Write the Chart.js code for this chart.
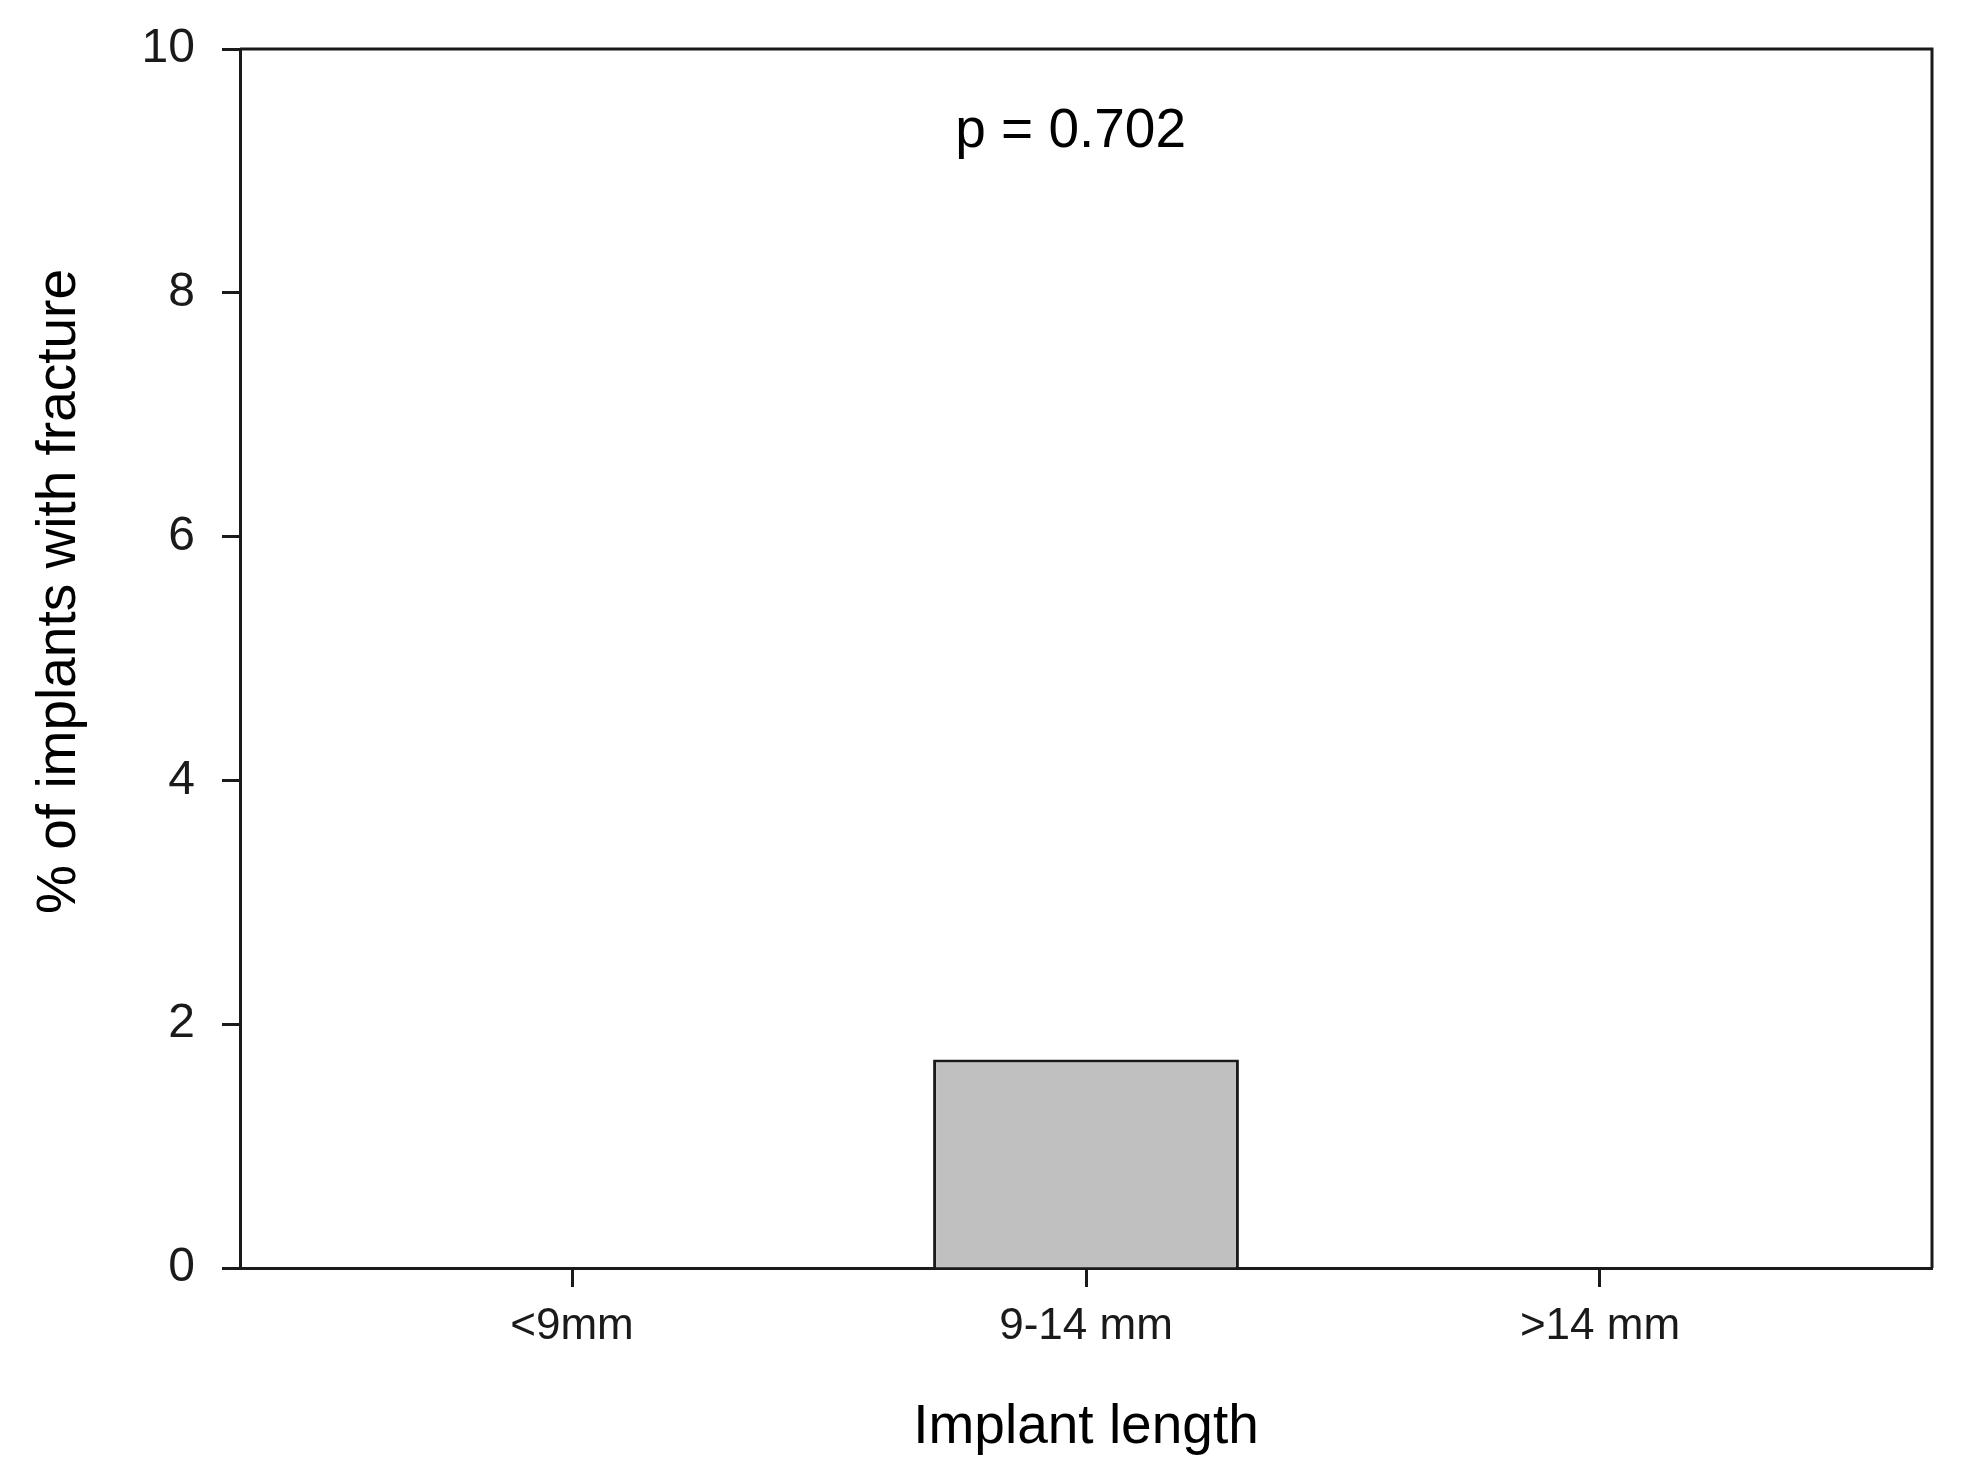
<!DOCTYPE html>
<html>
<head>
<meta charset="utf-8">
<script src="https://cdn.jsdelivr.net/npm/chart.js@4.4.1/dist/chart.umd.min.js"></script>
<style>
    html, body { margin: 0; padding: 0; background: #fff; }
    #wrap { width: 1964px; height: 1482px; }
</style>
</head>
<body>
<div id="wrap"><canvas id="fracture"></canvas></div>
<script>
const categories = ['<9mm', '9-14 mm', '>14 mm'];
const fracturePct = [0, 1.71, 0];
const yTickValues = [0, 2, 4, 6, 8, 10];
const xTitle = 'Implant length';
const yTitle = '% of implants with fracture';
const pValueLabel = 'p = 0.702';

const ink = '#1a1a1a';
const family = '"Liberation Sans", Arial, Helvetica, sans-serif';

// closes the box on top/right and writes the p value + y title
const framePlugin = {
    id: 'frame',
    afterDraw(chart) {
        const { ctx, chartArea: a, scales } = chart;
        ctx.save();
        ctx.strokeStyle = ink;
        ctx.lineWidth = 3;
        ctx.beginPath();
        ctx.moveTo(a.left, a.top);
        ctx.lineTo(a.right, a.top);
        ctx.lineTo(a.right, a.bottom);
        ctx.stroke();

        ctx.fillStyle = '#000';
        ctx.font = '55px ' + family;
        ctx.textAlign = 'center';
        ctx.textBaseline = 'middle';
        ctx.fillText(pValueLabel, scales.x.getPixelForValue(0.97), scales.y.getPixelForValue(9.32));

        ctx.translate(60, scales.y.getPixelForValue(5.55));
        ctx.rotate(-Math.PI / 2);
        ctx.fillText(yTitle, 0, 0);
        ctx.restore();
    }
};

window.addEventListener('load', setup);

function setup() {
    const ctx = document.getElementById('fracture').getContext('2d');
    new Chart(ctx, {
        type: 'bar',
        data: {
            datasets: [
                {
                    data: categories.map((c, i) => ({ x: i, y: fracturePct[i] })),
                    backgroundColor: '#c0c0c0',
                    borderColor: ink,
                    borderWidth: 3,
                    barPercentage: 0.595,
                    categoryPercentage: 1
                }
            ]
        },
        options: {
            responsive: true,
            maintainAspectRatio: false,
            animation: false,
            devicePixelRatio: 1,
            layout: { padding: { top: 49, right: 32, left: 0, bottom: 0 } },
            plugins: {
                legend: { display: false },
                tooltip: { enabled: false }
            },
            scales: {
                x: {
                    type: 'linear',
                    min: -0.646,
                    max: 2.646,
                    offset: false,
                    afterBuildTicks: s => { s.ticks = categories.map((c, i) => ({ value: i })); },
                    afterFit: s => { s.height = 214; },
                    grid: { offset: false, drawOnChartArea: false, drawTicks: true, tickLength: 19, tickWidth: 3, tickColor: ink },
                    border: { display: true, color: ink, width: 3 },
                    ticks: {
                        callback: v => categories[v],
                        font: { family: family, size: 44 },
                        color: ink,
                        padding: 13,
                        maxRotation: 0,
                        autoSkip: false
                    },
                    title: {
                        display: true,
                        text: xTitle,
                        font: { family: family, size: 55 },
                        color: '#000',
                        padding: { top: 0, bottom: 21 }
                    }
                },
                y: {
                    min: 0,
                    max: 10,
                    afterBuildTicks: s => { s.ticks = yTickValues.map(v => ({ value: v })); },
                    afterFit: s => { s.width = 240; s.paddingTop = 0; s.paddingBottom = 0; },
                    grid: { drawOnChartArea: false, drawTicks: true, tickLength: 18, tickWidth: 3, tickColor: ink },
                    border: { display: true, color: ink, width: 3 },
                    ticks: {
                        font: { family: family, size: 48 },
                        color: ink,
                        padding: 27
                    }
                }
            }
        },
        plugins: [framePlugin]
    });
}
</script>
</body>
</html>
